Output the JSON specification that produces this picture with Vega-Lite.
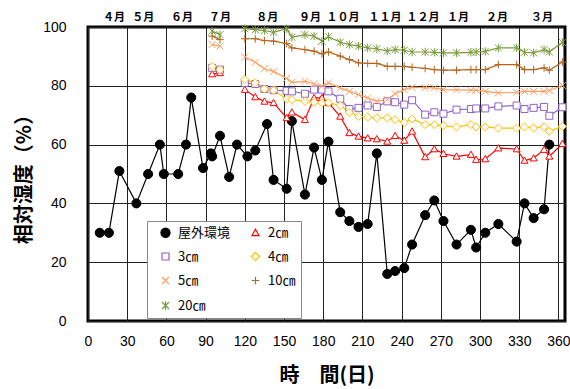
{
"$schema": "https://vega.github.io/schema/vega-lite/v6.json",
"width": 477, "height": 294,
"autosize": {"type": "none"},
"padding": {"left": 88, "top": 27, "right": 5, "bottom": 68},
"background": "white",
"config": {
 "view": {"stroke": "black", "strokeWidth": 3},
 "axis": {"labelFont": "Liberation Sans", "labelFontSize": 14, "labelColor": "black", "titleFont": "Noto Sans CJK JP", "titleFontSize": 20, "titleFontWeight": "bold", "titleColor": "black", "gridColor": "#222", "gridWidth": 1, "gridOpacity": 1, "domain": false, "ticks": false, "labelFlush": false, "labelOverlap": false}
},
"data": {"values": [
{"series":"屋外環境","day":9,"rh":30,"seg":"m"},{"series":"屋外環境","day":16,"rh":30,"seg":"m"},{"series":"屋外環境","day":24,"rh":51,"seg":"m"},{"series":"屋外環境","day":37,"rh":40,"seg":"m"},{"series":"屋外環境","day":46,"rh":50,"seg":"m"},{"series":"屋外環境","day":55,"rh":60,"seg":"m"},{"series":"屋外環境","day":58,"rh":50,"seg":"m"},{"series":"屋外環境","day":69,"rh":50,"seg":"m"},{"series":"屋外環境","day":75,"rh":60,"seg":"m"},{"series":"屋外環境","day":79,"rh":76,"seg":"m"},{"series":"屋外環境","day":88,"rh":52,"seg":"m"},{"series":"屋外環境","day":94,"rh":57,"seg":"m"},{"series":"屋外環境","day":95,"rh":56,"seg":"m"},{"series":"屋外環境","day":101,"rh":63,"seg":"m"},{"series":"屋外環境","day":108,"rh":49,"seg":"m"},{"series":"屋外環境","day":114,"rh":60,"seg":"m"},{"series":"屋外環境","day":122,"rh":56,"seg":"m"},{"series":"屋外環境","day":128,"rh":58,"seg":"m"},{"series":"屋外環境","day":137,"rh":67,"seg":"m"},{"series":"屋外環境","day":142,"rh":48,"seg":"m"},{"series":"屋外環境","day":152,"rh":45,"seg":"m"},{"series":"屋外環境","day":156,"rh":68,"seg":"m"},{"series":"屋外環境","day":166,"rh":43,"seg":"m"},{"series":"屋外環境","day":173,"rh":59,"seg":"m"},{"series":"屋外環境","day":179,"rh":48,"seg":"m"},{"series":"屋外環境","day":184,"rh":61,"seg":"m"},{"series":"屋外環境","day":193,"rh":37,"seg":"m"},{"series":"屋外環境","day":200,"rh":34,"seg":"m"},{"series":"屋外環境","day":207,"rh":32,"seg":"m"},{"series":"屋外環境","day":214,"rh":33,"seg":"m"},{"series":"屋外環境","day":221,"rh":57,"seg":"m"},{"series":"屋外環境","day":229,"rh":16,"seg":"m"},{"series":"屋外環境","day":235,"rh":17,"seg":"m"},{"series":"屋外環境","day":242,"rh":18,"seg":"m"},{"series":"屋外環境","day":248,"rh":26,"seg":"m"},{"series":"屋外環境","day":258,"rh":36,"seg":"m"},{"series":"屋外環境","day":265,"rh":41,"seg":"m"},{"series":"屋外環境","day":272,"rh":34,"seg":"m"},{"series":"屋外環境","day":282,"rh":26,"seg":"m"},{"series":"屋外環境","day":293,"rh":31,"seg":"m"},{"series":"屋外環境","day":297,"rh":25,"seg":"m"},{"series":"屋外環境","day":304,"rh":30,"seg":"m"},{"series":"屋外環境","day":314,"rh":33,"seg":"m"},{"series":"屋外環境","day":328,"rh":27,"seg":"m"},{"series":"屋外環境","day":334,"rh":40,"seg":"m"},{"series":"屋外環境","day":341,"rh":35,"seg":"m"},{"series":"屋外環境","day":349,"rh":38,"seg":"m"},{"series":"屋外環境","day":353,"rh":60,"seg":"m"},

{"series":"2㎝","day":95,"rh":84.0,"seg":"e"},{"series":"2㎝","day":101,"rh":84.4,"seg":"e"},
{"series":"2㎝","day":120,"rh":78.7,"seg":"m"},{"series":"2㎝","day":128,"rh":76.2,"seg":"m"},{"series":"2㎝","day":135,"rh":74.7,"seg":"m"},{"series":"2㎝","day":142,"rh":74.2,"seg":"m"},{"series":"2㎝","day":152,"rh":69.1,"seg":"m"},{"series":"2㎝","day":156,"rh":71.0,"seg":"m"},{"series":"2㎝","day":166,"rh":68.5,"seg":"m"},{"series":"2㎝","day":173,"rh":75.9,"seg":"m"},{"series":"2㎝","day":179,"rh":75.9,"seg":"m"},{"series":"2㎝","day":184,"rh":74.2,"seg":"m"},{"series":"2㎝","day":193,"rh":69.6,"seg":"m"},{"series":"2㎝","day":200,"rh":64.0,"seg":"m"},{"series":"2㎝","day":207,"rh":62.8,"seg":"m"},{"series":"2㎝","day":214,"rh":62.2,"seg":"m"},{"series":"2㎝","day":221,"rh":61.9,"seg":"m"},{"series":"2㎝","day":229,"rh":61.1,"seg":"m"},{"series":"2㎝","day":235,"rh":63.0,"seg":"m"},{"series":"2㎝","day":242,"rh":61.4,"seg":"m"},{"series":"2㎝","day":248,"rh":64.5,"seg":"m"},{"series":"2㎝","day":258,"rh":55.8,"seg":"m"},{"series":"2㎝","day":265,"rh":58.5,"seg":"m"},{"series":"2㎝","day":272,"rh":56.9,"seg":"m"},{"series":"2㎝","day":282,"rh":56.0,"seg":"m"},{"series":"2㎝","day":293,"rh":56.6,"seg":"m"},{"series":"2㎝","day":297,"rh":54.9,"seg":"m"},{"series":"2㎝","day":304,"rh":55.1,"seg":"m"},{"series":"2㎝","day":314,"rh":58.8,"seg":"m"},{"series":"2㎝","day":328,"rh":58.5,"seg":"m"},{"series":"2㎝","day":334,"rh":54.6,"seg":"m"},{"series":"2㎝","day":341,"rh":55.4,"seg":"m"},{"series":"2㎝","day":349,"rh":58.3,"seg":"m"},{"series":"2㎝","day":353,"rh":56.0,"seg":"m"},{"series":"2㎝","day":363,"rh":60.3,"seg":"m"},

{"series":"3㎝","day":95,"rh":86.1,"seg":"e"},{"series":"3㎝","day":101,"rh":85.5,"seg":"e"},
{"series":"3㎝","day":120,"rh":81.0,"seg":"m"},{"series":"3㎝","day":128,"rh":80.6,"seg":"m"},{"series":"3㎝","day":135,"rh":78.9,"seg":"m"},{"series":"3㎝","day":142,"rh":78.5,"seg":"m"},{"series":"3㎝","day":152,"rh":78.3,"seg":"m"},{"series":"3㎝","day":156,"rh":78.1,"seg":"m"},{"series":"3㎝","day":166,"rh":77.3,"seg":"m"},{"series":"3㎝","day":173,"rh":78.7,"seg":"m"},{"series":"3㎝","day":179,"rh":78.7,"seg":"m"},{"series":"3㎝","day":184,"rh":78.1,"seg":"m"},{"series":"3㎝","day":193,"rh":75.6,"seg":"m"},{"series":"3㎝","day":200,"rh":72.1,"seg":"m"},{"series":"3㎝","day":207,"rh":72.5,"seg":"m"},{"series":"3㎝","day":214,"rh":73.3,"seg":"m"},{"series":"3㎝","day":221,"rh":72.8,"seg":"m"},{"series":"3㎝","day":229,"rh":74.7,"seg":"m"},{"series":"3㎝","day":235,"rh":74.4,"seg":"m"},{"series":"3㎝","day":242,"rh":73.6,"seg":"m"},{"series":"3㎝","day":248,"rh":75.1,"seg":"m"},{"series":"3㎝","day":258,"rh":70.2,"seg":"m"},{"series":"3㎝","day":265,"rh":71.0,"seg":"m"},{"series":"3㎝","day":272,"rh":70.5,"seg":"m"},{"series":"3㎝","day":282,"rh":71.9,"seg":"m"},{"series":"3㎝","day":293,"rh":72.1,"seg":"m"},{"series":"3㎝","day":297,"rh":72.3,"seg":"m"},{"series":"3㎝","day":304,"rh":72.3,"seg":"m"},{"series":"3㎝","day":314,"rh":73.0,"seg":"m"},{"series":"3㎝","day":328,"rh":73.3,"seg":"m"},{"series":"3㎝","day":334,"rh":72.1,"seg":"m"},{"series":"3㎝","day":341,"rh":72.5,"seg":"m"},{"series":"3㎝","day":349,"rh":72.8,"seg":"m"},{"series":"3㎝","day":353,"rh":69.8,"seg":"m"},{"series":"3㎝","day":363,"rh":72.7,"seg":"m"},

{"series":"4㎝","day":95,"rh":86.6,"seg":"e"},{"series":"4㎝","day":101,"rh":85.5,"seg":"e"},
{"series":"4㎝","day":120,"rh":82.1,"seg":"m"},{"series":"4㎝","day":128,"rh":81.0,"seg":"m"},{"series":"4㎝","day":135,"rh":78.9,"seg":"m"},{"series":"4㎝","day":142,"rh":78.5,"seg":"m"},{"series":"4㎝","day":152,"rh":75.5,"seg":"m"},{"series":"4㎝","day":156,"rh":75.3,"seg":"m"},{"series":"4㎝","day":166,"rh":74.7,"seg":"m"},{"series":"4㎝","day":173,"rh":74.4,"seg":"m"},{"series":"4㎝","day":179,"rh":74.2,"seg":"m"},{"series":"4㎝","day":184,"rh":74.2,"seg":"m"},{"series":"4㎝","day":193,"rh":73.3,"seg":"m"},{"series":"4㎝","day":200,"rh":71.0,"seg":"m"},{"series":"4㎝","day":207,"rh":69.6,"seg":"m"},{"series":"4㎝","day":214,"rh":69.4,"seg":"m"},{"series":"4㎝","day":221,"rh":69.1,"seg":"m"},{"series":"4㎝","day":229,"rh":69.1,"seg":"m"},{"series":"4㎝","day":235,"rh":68.5,"seg":"m"},{"series":"4㎝","day":242,"rh":67.5,"seg":"m"},{"series":"4㎝","day":248,"rh":68.7,"seg":"m"},{"series":"4㎝","day":258,"rh":66.8,"seg":"m"},{"series":"4㎝","day":265,"rh":66.8,"seg":"m"},{"series":"4㎝","day":272,"rh":66.4,"seg":"m"},{"series":"4㎝","day":282,"rh":66.0,"seg":"m"},{"series":"4㎝","day":293,"rh":66.8,"seg":"m"},{"series":"4㎝","day":297,"rh":66.0,"seg":"m"},{"series":"4㎝","day":304,"rh":66.0,"seg":"m"},{"series":"4㎝","day":314,"rh":65.6,"seg":"m"},{"series":"4㎝","day":328,"rh":65.6,"seg":"m"},{"series":"4㎝","day":334,"rh":66.0,"seg":"m"},{"series":"4㎝","day":341,"rh":65.6,"seg":"m"},{"series":"4㎝","day":349,"rh":66.0,"seg":"m"},{"series":"4㎝","day":353,"rh":64.5,"seg":"m"},{"series":"4㎝","day":363,"rh":66.2,"seg":"m"},

{"series":"5㎝","day":95,"rh":94.0,"seg":"e"},{"series":"5㎝","day":101,"rh":93.5,"seg":"e"},
{"series":"5㎝","day":120,"rh":89.8,"seg":"m"},{"series":"5㎝","day":128,"rh":88.0,"seg":"m"},{"series":"5㎝","day":135,"rh":85.8,"seg":"m"},{"series":"5㎝","day":142,"rh":84.9,"seg":"m"},{"series":"5㎝","day":152,"rh":82.5,"seg":"m"},{"series":"5㎝","day":156,"rh":81.2,"seg":"m"},{"series":"5㎝","day":166,"rh":81.5,"seg":"m"},{"series":"5㎝","day":173,"rh":80.7,"seg":"m"},{"series":"5㎝","day":179,"rh":79.8,"seg":"m"},{"series":"5㎝","day":184,"rh":81.0,"seg":"m"},{"series":"5㎝","day":193,"rh":79.3,"seg":"m"},{"series":"5㎝","day":200,"rh":78.1,"seg":"m"},{"series":"5㎝","day":207,"rh":77.0,"seg":"m"},{"series":"5㎝","day":214,"rh":75.9,"seg":"m"},{"series":"5㎝","day":221,"rh":74.7,"seg":"m"},{"series":"5㎝","day":229,"rh":75.3,"seg":"m"},{"series":"5㎝","day":235,"rh":77.3,"seg":"m"},{"series":"5㎝","day":242,"rh":78.7,"seg":"m"},{"series":"5㎝","day":248,"rh":79.5,"seg":"m"},{"series":"5㎝","day":258,"rh":79.3,"seg":"m"},{"series":"5㎝","day":265,"rh":79.3,"seg":"m"},{"series":"5㎝","day":272,"rh":78.7,"seg":"m"},{"series":"5㎝","day":282,"rh":78.6,"seg":"m"},{"series":"5㎝","day":293,"rh":78.5,"seg":"m"},{"series":"5㎝","day":297,"rh":78.5,"seg":"m"},{"series":"5㎝","day":304,"rh":78.1,"seg":"m"},{"series":"5㎝","day":314,"rh":77.6,"seg":"m"},{"series":"5㎝","day":328,"rh":77.8,"seg":"m"},{"series":"5㎝","day":334,"rh":78.1,"seg":"m"},{"series":"5㎝","day":341,"rh":78.1,"seg":"m"},{"series":"5㎝","day":349,"rh":78.1,"seg":"m"},{"series":"5㎝","day":353,"rh":78.4,"seg":"m"},{"series":"5㎝","day":363,"rh":80.1,"seg":"m"},

{"series":"10㎝","day":95,"rh":96.9,"seg":"e"},{"series":"10㎝","day":101,"rh":95.7,"seg":"e"},
{"series":"10㎝","day":120,"rh":96.0,"seg":"m"},{"series":"10㎝","day":128,"rh":96.0,"seg":"m"},{"series":"10㎝","day":135,"rh":95.4,"seg":"m"},{"series":"10㎝","day":142,"rh":95.2,"seg":"m"},{"series":"10㎝","day":152,"rh":94.4,"seg":"m"},{"series":"10㎝","day":156,"rh":92.9,"seg":"m"},{"series":"10㎝","day":166,"rh":92.3,"seg":"m"},{"series":"10㎝","day":173,"rh":91.8,"seg":"m"},{"series":"10㎝","day":179,"rh":90.9,"seg":"m"},{"series":"10㎝","day":184,"rh":91.5,"seg":"m"},{"series":"10㎝","day":193,"rh":90.1,"seg":"m"},{"series":"10㎝","day":200,"rh":88.9,"seg":"m"},{"series":"10㎝","day":207,"rh":87.8,"seg":"m"},{"series":"10㎝","day":214,"rh":87.6,"seg":"m"},{"series":"10㎝","day":221,"rh":87.6,"seg":"m"},{"series":"10㎝","day":229,"rh":86.6,"seg":"m"},{"series":"10㎝","day":235,"rh":86.6,"seg":"m"},{"series":"10㎝","day":242,"rh":86.6,"seg":"m"},{"series":"10㎝","day":248,"rh":86.3,"seg":"m"},{"series":"10㎝","day":258,"rh":85.9,"seg":"m"},{"series":"10㎝","day":265,"rh":85.5,"seg":"m"},{"series":"10㎝","day":272,"rh":85.3,"seg":"m"},{"series":"10㎝","day":282,"rh":85.3,"seg":"m"},{"series":"10㎝","day":293,"rh":85.5,"seg":"m"},{"series":"10㎝","day":297,"rh":85.5,"seg":"m"},{"series":"10㎝","day":304,"rh":85.5,"seg":"m"},{"series":"10㎝","day":314,"rh":87.2,"seg":"m"},{"series":"10㎝","day":328,"rh":87.2,"seg":"m"},{"series":"10㎝","day":334,"rh":85.5,"seg":"m"},{"series":"10㎝","day":341,"rh":85.5,"seg":"m"},{"series":"10㎝","day":349,"rh":86.1,"seg":"m"},{"series":"10㎝","day":353,"rh":85.3,"seg":"m"},{"series":"10㎝","day":363,"rh":88.1,"seg":"m"},

{"series":"20㎝","day":95,"rh":98.6,"seg":"e"},{"series":"20㎝","day":101,"rh":97.4,"seg":"e"},
{"series":"20㎝","day":120,"rh":99.4,"seg":"m"},{"series":"20㎝","day":128,"rh":99.1,"seg":"m"},{"series":"20㎝","day":135,"rh":98.8,"seg":"m"},{"series":"20㎝","day":142,"rh":98.2,"seg":"m"},{"series":"20㎝","day":152,"rh":99.4,"seg":"m"},{"series":"20㎝","day":156,"rh":96.5,"seg":"m"},{"series":"20㎝","day":166,"rh":97.4,"seg":"m"},{"series":"20㎝","day":173,"rh":96.9,"seg":"m"},{"series":"20㎝","day":179,"rh":95.2,"seg":"m"},{"series":"20㎝","day":184,"rh":96.7,"seg":"m"},{"series":"20㎝","day":193,"rh":94.8,"seg":"m"},{"series":"20㎝","day":200,"rh":94.0,"seg":"m"},{"series":"20㎝","day":207,"rh":93.5,"seg":"m"},{"series":"20㎝","day":214,"rh":92.9,"seg":"m"},{"series":"20㎝","day":221,"rh":92.6,"seg":"m"},{"series":"20㎝","day":229,"rh":91.8,"seg":"m"},{"series":"20㎝","day":235,"rh":92.3,"seg":"m"},{"series":"20㎝","day":242,"rh":92.1,"seg":"m"},{"series":"20㎝","day":248,"rh":91.5,"seg":"m"},{"series":"20㎝","day":258,"rh":91.5,"seg":"m"},{"series":"20㎝","day":265,"rh":91.4,"seg":"m"},{"series":"20㎝","day":272,"rh":91.2,"seg":"m"},{"series":"20㎝","day":282,"rh":91.2,"seg":"m"},{"series":"20㎝","day":293,"rh":91.4,"seg":"m"},{"series":"20㎝","day":297,"rh":91.5,"seg":"m"},{"series":"20㎝","day":304,"rh":91.7,"seg":"m"},{"series":"20㎝","day":314,"rh":92.9,"seg":"m"},{"series":"20㎝","day":328,"rh":92.9,"seg":"m"},{"series":"20㎝","day":334,"rh":91.4,"seg":"m"},{"series":"20㎝","day":341,"rh":91.2,"seg":"m"},{"series":"20㎝","day":349,"rh":92.3,"seg":"m"},{"series":"20㎝","day":353,"rh":91.5,"seg":"m"},{"series":"20㎝","day":363,"rh":94.8,"seg":"m"}
]},
"layer": [
 {"mark": {"type": "line", "strokeWidth": 1.2},
  "encoding": {
   "x": {"field": "day", "type": "quantitative", "scale": {"domain": [0, 365], "nice": false, "zero": false},
         "axis": {"orient": "bottom", "values": [0,30,60,90,120,150,180,210,240,270,300,330,360], "grid": true, "labelPadding": 13, "title": "時　間(日)", "titlePadding": 17}},
   "y": {"field": "rh", "type": "quantitative", "scale": {"domain": [0, 100], "nice": false},
         "axis": {"values": [0,20,40,60,80,100], "grid": true, "labelPadding": 22, "title": "相対湿度（%）", "titlePadding": 8}},
   "color": {"field": "series", "type": "nominal",
             "scale": {"domain": ["屋外環境","2㎝","3㎝","4㎝","5㎝","10㎝","20㎝"], "range": ["black","#FF0000","#8E63C8","#FFC000","#FF9E5E","#B5651D","#7A9A3A"]},
             "legend": {"orient": "none", "legendX": 59, "legendY": 194, "columns": 2, "direction": "horizontal", "title": null, "fillColor": "white", "strokeColor": "#888", "padding": 5, "symbolSize": 49, "symbolStrokeWidth": 1.2, "symbolOpacity": 1, "symbolOffset": 7, "labelOffset": 6, "labelFont": "Noto Sans CJK JP", "labelFontSize": 13, "labelColor": "black", "rowPadding": 10, "columnPadding": 11, "labelExpr": "datum.label == '10㎝' ? '10㎝\u3000' : datum.label"}},
   "detail": {"field": "seg"}
  }},
 {"mark": {"type": "point", "filled": false, "opacity": 1, "size": 49, "strokeWidth": 1},
  "encoding": {
   "x": {"field": "day", "type": "quantitative",
         "axis": {"orient": "top", "values": [19.6,41.8,71.5,100.7,136.7,169.5,194.8,226.9,256,282.7,312.6,347], "grid": false, "title": null, "labelFont": "Noto Sans CJK JP", "labelFontSize": 11, "labelFontWeight": "bold", "labelPadding": 5,
                  "labelExpr": "['４月','５月','６月','７月','８月','９月','１０月','１１月','１２月','１月','２月','３月'][indexof([19.6,41.8,71.5,100.7,136.7,169.5,194.8,226.9,256,282.7,312.6,347], datum.value)]"}},
   "y": {"field": "rh", "type": "quantitative",
         "axis": {"values": [0,20,40,60,80,100], "grid": true, "labelPadding": 22, "title": "相対湿度（%）", "titlePadding": 8}},
   "color": {"field": "series", "type": "nominal",
             "legend": {"orient": "none", "legendX": 59, "legendY": 194, "columns": 2, "direction": "horizontal", "title": null, "fillColor": "white", "strokeColor": "#888", "padding": 5, "symbolSize": 49, "symbolStrokeWidth": 1.2, "symbolOpacity": 1, "symbolOffset": 7, "labelOffset": 6, "labelFont": "Noto Sans CJK JP", "labelFontSize": 13, "labelColor": "black", "rowPadding": 10, "columnPadding": 11, "labelExpr": "datum.label == '10㎝' ? '10㎝\u3000' : datum.label"}},
   "fill": {"field": "series", "type": "nominal",
            "scale": {"domain": ["屋外環境","2㎝","3㎝","4㎝","5㎝","10㎝","20㎝"], "range": ["black","white","white","white","white","white","white"]},
            "legend": {"orient": "none", "legendX": 59, "legendY": 194, "columns": 2, "direction": "horizontal", "title": null, "fillColor": "white", "strokeColor": "#888", "padding": 5, "symbolSize": 49, "symbolStrokeWidth": 1.2, "symbolOpacity": 1, "symbolOffset": 7, "labelOffset": 6, "labelFont": "Noto Sans CJK JP", "labelFontSize": 13, "labelColor": "black", "rowPadding": 10, "columnPadding": 11, "labelExpr": "datum.label == '10㎝' ? '10㎝\u3000' : datum.label"}},
   "shape": {"field": "series", "type": "nominal",
             "scale": {"domain": ["屋外環境","2㎝","3㎝","4㎝","5㎝","10㎝","20㎝"],
                       "range": ["M-1.3,0A1.3,1.3,0,1,1,1.3,0A1.3,1.3,0,1,1,-1.3,0Z","M0,-1L1,0.8L-1,0.8Z","M-1,-1L1,-1L1,1L-1,1Z","M0,-1.15L1.15,0L0,1.15L-1.15,0Z","M-1,-1L1,1M-1,1L1,-1","M-1.1,0L1.1,0M0,-1.1L0,1.1","M-1,-1L1,1M-1,1L1,-1M0,-1.2L0,1.2"]},
             "legend": {"orient": "none", "legendX": 59, "legendY": 194, "columns": 2, "direction": "horizontal", "title": null, "fillColor": "white", "strokeColor": "#888", "padding": 5, "symbolSize": 49, "symbolStrokeWidth": 1.2, "symbolOpacity": 1, "symbolOffset": 7, "labelOffset": 6, "labelFont": "Noto Sans CJK JP", "labelFontSize": 13, "labelColor": "black", "rowPadding": 10, "columnPadding": 11, "labelExpr": "datum.label == '10㎝' ? '10㎝\u3000' : datum.label"}}
  }}
],
"resolve": {"axis": {"x": "independent"}}
}
